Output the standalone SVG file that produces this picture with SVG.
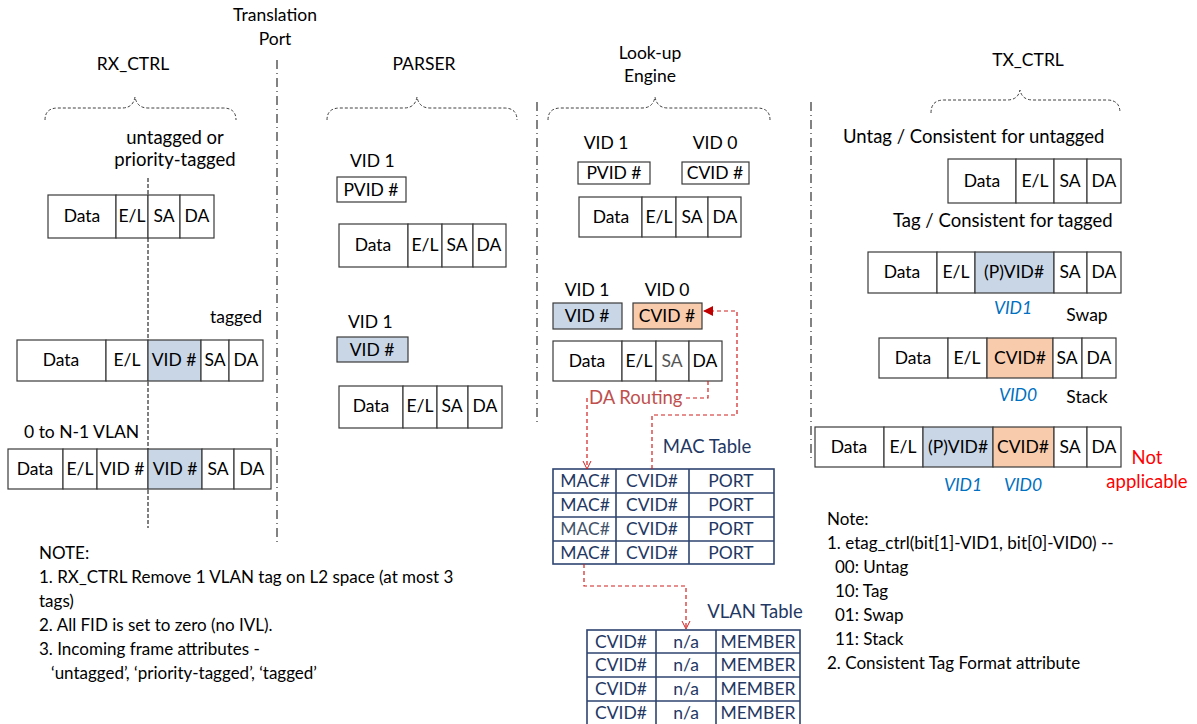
<svg xmlns="http://www.w3.org/2000/svg" width="1197" height="724" viewBox="0 0 1197 724">
<style>
text{font-family:Lato,"Liberation Sans",sans-serif;font-size:17.5px;fill:#000}
.c{text-anchor:middle}
.big{font-size:18.5px}
.note text{font-size:17px}
.cell{fill:#fff;stroke:#3a3a3a;stroke-width:1.2}
.blue{fill:#C9D6E6;stroke:#3a3a3a;stroke-width:1.2}
.org{fill:#F8CBAD;stroke:#3a3a3a;stroke-width:1.2}
.tab{fill:#fff;stroke:#2E4470;stroke-width:1.6}
.tt{fill:#1F3864;font-size:17.5px}
.sep{stroke:#404040;stroke-width:1.3;stroke-dasharray:9 4 1 4;fill:none}
.brace{fill:none;stroke:#404040;stroke-width:1;stroke-dasharray:3 2}
.vid{fill:#0070C0;font-style:italic}
.red{stroke:#D02020;stroke-width:1.2;stroke-dasharray:4 3;fill:none}
</style>
<defs>
<marker id="fill" markerWidth="10" markerHeight="10" refX="9" refY="5" orient="auto" markerUnits="userSpaceOnUse"><path d="M0,0 L10,5 L0,10 z" fill="#C00000"/></marker>
<marker id="open" markerWidth="10" markerHeight="10" refX="9" refY="5" orient="auto" markerUnits="userSpaceOnUse"><path d="M1,1 L9,5 L1,9" fill="none" stroke="#D02020" stroke-width="1"/></marker>
</defs>

<g id="separators">
<path class="sep" d="M277,60 V545"/>
<path class="sep" d="M537,102 V423"/>
<path class="sep" d="M811,102 V460"/>
<path d="M148,178 V528" stroke="#000" stroke-width="1" stroke-dasharray="4 2" fill="none"/>
</g>

<g id="translation-port"><text class="c" x="275" y="21">Translation</text><text class="c" x="275" y="45">Port</text></g>

<g id="rx-ctrl">
<text class="c" x="133" y="70">RX_CTRL</text>
<path class="brace" d="M45,120 Q45,108 58,108 H122 Q133,108 135,97 Q137,108 148,108 H223 Q236,108 236,120"/>
<text class="c big" x="175" y="144">untagged or</text>
<text class="c big" x="175" y="166">priority-tagged</text>
</g>
<g id="rx-frame-untagged">
<rect class="cell" x="48" y="195" width="68" height="43"/><rect class="cell" x="116" y="195" width="32" height="43"/><rect class="cell" x="148" y="195" width="32" height="43"/><rect class="cell" x="180" y="195" width="34" height="43"/>
<text class="c" x="82" y="222">Data</text><text class="c" x="132" y="222">E/L</text><text class="c" x="164" y="222">SA</text><text class="c" x="197" y="222">DA</text>
</g>
<g id="rx-frame-tagged">
<text x="262" y="323" text-anchor="end">tagged</text>
<rect class="cell" x="17" y="340" width="89" height="41"/><rect class="cell" x="106" y="340" width="42" height="41"/><rect class="blue" x="148" y="340" width="53" height="41"/><rect class="cell" x="201" y="340" width="28" height="41"/><rect class="cell" x="229" y="340" width="34" height="41"/>
<text class="c" x="61" y="366">Data</text><text class="c" x="127" y="366">E/L</text><text class="c" x="174" y="366">VID #</text><text class="c" x="215" y="366">SA</text><text class="c" x="246" y="366">DA</text>
</g>
<g id="rx-frame-nvlan">
<text x="24" y="438">0 to N-1 VLAN</text>
<rect class="cell" x="8" y="449" width="55" height="40"/><rect class="cell" x="63" y="449" width="34" height="40"/><rect class="cell" x="97" y="449" width="51" height="40"/><rect class="blue" x="148" y="449" width="54" height="40"/><rect class="cell" x="202" y="449" width="32" height="40"/><rect class="cell" x="234" y="449" width="37" height="40"/>
<text class="c" x="35" y="475">Data</text><text class="c" x="80" y="475">E/L</text><text class="c" x="122" y="475">VID #</text><text class="c" x="175" y="475">VID #</text><text class="c" x="218" y="475">SA</text><text class="c" x="252" y="475">DA</text>
</g>
<g id="rx-note" class="note">
<text x="39" y="559">NOTE:</text>
<text x="39" y="583">1. RX_CTRL Remove 1 VLAN tag on L2 space (at most 3</text>
<text x="39" y="607">tags)</text>
<text x="39" y="631">2. All FID is set to zero (no IVL).</text>
<text x="39" y="655">3. Incoming frame attributes -</text>
<text x="51" y="679">‘untagged’, ‘priority-tagged’, ‘tagged’</text>
</g>

<g id="parser">
<text class="c" x="424" y="70">PARSER</text>
<path class="brace" d="M327,120 Q327,108 340,108 H404 Q415,108 417,97 Q419,108 430,108 H504 Q517,108 517,120"/>
</g>
<g id="parser-pvid">
<text x="350" y="167">VID 1</text>
<rect class="cell" x="337" y="177" width="69" height="25"/><text class="c" x="371" y="196">PVID #</text>
</g>
<g id="parser-frame1">
<rect class="cell" x="339" y="224" width="69" height="43"/><rect class="cell" x="408" y="224" width="34" height="43"/><rect class="cell" x="442" y="224" width="31" height="43"/><rect class="cell" x="473" y="224" width="33" height="43"/>
<text class="c" x="373" y="251">Data</text><text class="c" x="425" y="251">E/L</text><text class="c" x="457" y="251">SA</text><text class="c" x="489" y="251">DA</text>
</g>
<g id="parser-vid">
<text x="348" y="328">VID 1</text>
<rect class="blue" x="337" y="337" width="71" height="25"/><text class="c" x="372" y="356">VID #</text>
</g>
<g id="parser-frame2">
<rect class="cell" x="339" y="386" width="64" height="42"/><rect class="cell" x="403" y="386" width="34" height="42"/><rect class="cell" x="437" y="386" width="31" height="42"/><rect class="cell" x="468" y="386" width="34" height="42"/>
<text class="c" x="371" y="412">Data</text><text class="c" x="420" y="412">E/L</text><text class="c" x="452" y="412">SA</text><text class="c" x="485" y="412">DA</text>
</g>

<g id="lookup">
<text class="c" x="650" y="59">Look-up</text>
<text class="c" x="650" y="82">Engine</text>
<path class="brace" d="M548,120 Q548,108 561,108 H642 Q653,108 655,97 Q657,108 668,108 H757 Q770,108 770,120"/>
</g>
<g id="lookup-ids1">
<text class="c" x="606" y="149">VID 1</text><text class="c" x="715" y="149">VID 0</text>
<rect class="cell" x="578" y="162" width="72" height="22"/><text class="c" x="614" y="179">PVID #</text>
<rect class="cell" x="682" y="162" width="67" height="22"/><text class="c" x="715" y="179">CVID #</text>
</g>
<g id="lookup-frame1">
<rect class="cell" x="579" y="197" width="63" height="40"/><rect class="cell" x="642" y="197" width="34" height="40"/><rect class="cell" x="676" y="197" width="32" height="40"/><rect class="cell" x="708" y="197" width="33" height="40"/>
<text class="c" x="611" y="223">Data</text><text class="c" x="659" y="223">E/L</text><text class="c" x="692" y="223">SA</text><text class="c" x="725" y="223">DA</text>
</g>
<g id="lookup-ids2">
<text class="c" x="587" y="296">VID 1</text><text class="c" x="667" y="296">VID 0</text>
<rect class="blue" x="553" y="303" width="69" height="26"/><text class="c" x="587" y="322">VID #</text>
<rect class="org" x="633" y="303" width="69" height="26"/><text class="c" x="667" y="322">CVID #</text>
</g>
<g id="lookup-frame2">
<rect class="cell" x="553" y="341" width="69" height="40"/><rect class="cell" x="622" y="341" width="34" height="40"/><rect class="cell" x="656" y="341" width="33" height="40"/><rect class="cell" x="689" y="341" width="33" height="40"/>
<text class="c" x="587" y="367">Data</text><text class="c" x="639" y="367">E/L</text><text class="c" x="672" y="367" style="fill:#555">SA</text><text class="c" x="705" y="367">DA</text>
</g>
<g id="da-routing"><text class="big" x="589" y="404" style="fill:#C0504D">DA Routing</text></g>

<g id="mac-table">
<text class="c tt" x="707" y="453" style="font-size:18.5px">MAC Table</text>
<rect class="tab" x="553" y="469" width="221" height="95"/>
<path d="M553,493 H774 M553,517 H774 M553,541 H774 M616,469 V564 M689,469 V564" stroke="#2E4470" stroke-width="1.6" fill="none"/>
<text class="c tt" x="585" y="487">MAC#</text><text class="c tt" x="652" y="487">CVID#</text><text class="c tt" x="731" y="487">PORT</text>
<text class="c tt" x="585" y="511">MAC#</text><text class="c tt" x="652" y="511">CVID#</text><text class="c tt" x="731" y="511">PORT</text>
<text class="c tt" x="585" y="535" style="fill:#44546A">MAC#</text><text class="c tt" x="652" y="535">CVID#</text><text class="c tt" x="731" y="535">PORT</text>
<text class="c tt" x="585" y="559">MAC#</text><text class="c tt" x="652" y="559">CVID#</text><text class="c tt" x="731" y="559">PORT</text>
</g>
<g id="vlan-table">
<text class="c tt" x="755" y="618" style="font-size:18.5px">VLAN Table</text>
<rect class="tab" x="587" y="630" width="213" height="96"/>
<path d="M587,653 H800 M587,677 H800 M587,701 H800 M656,630 V726 M716,630 V726" stroke="#2E4470" stroke-width="1.6" fill="none"/>
<text class="c tt" x="621" y="648">CVID#</text><text class="c tt" x="686" y="648">n/a</text><text class="c tt" x="758" y="648">MEMBER</text>
<text class="c tt" x="621" y="671">CVID#</text><text class="c tt" x="686" y="671">n/a</text><text class="c tt" x="758" y="671">MEMBER</text>
<text class="c tt" x="621" y="695">CVID#</text><text class="c tt" x="686" y="695">n/a</text><text class="c tt" x="758" y="695">MEMBER</text>
<text class="c tt" x="621" y="719">CVID#</text><text class="c tt" x="686" y="719">n/a</text><text class="c tt" x="758" y="719">MEMBER</text>
</g>

<g id="connectors">
<path class="red" d="M652,469 V415 H737 V311 H704" marker-end="url(#fill)"/>
<path class="red" d="M708,381 V398 H686"/>
<path class="red" d="M587,398 V469" marker-end="url(#open)"/>
<path class="red" d="M584,564 V586 H686 V629" marker-end="url(#open)"/>
</g>

<g id="tx-ctrl">
<text class="c" x="1028" y="66">TX_CTRL</text>
<path class="brace" d="M931,113 Q931,100 944,100 H1007 Q1018,100 1020,90 Q1022,100 1033,100 H1107 Q1120,100 1120,113"/>
</g>
<g id="tx-untag">
<text class="big" x="843" y="143">Untag / Consistent for untagged</text>
<rect class="cell" x="948" y="159" width="68" height="44"/><rect class="cell" x="1016" y="159" width="38" height="44"/><rect class="cell" x="1054" y="159" width="33" height="44"/><rect class="cell" x="1087" y="159" width="34" height="44"/>
<text class="c" x="982" y="187">Data</text><text class="c" x="1035" y="187">E/L</text><text class="c" x="1070" y="187">SA</text><text class="c" x="1104" y="187">DA</text>
</g>
<g id="tx-tag">
<text class="big" x="893" y="227">Tag / Consistent for tagged</text>
<rect class="cell" x="868" y="252" width="69" height="41"/><rect class="cell" x="937" y="252" width="38" height="41"/><rect class="blue" x="975" y="252" width="79" height="41"/><rect class="cell" x="1054" y="252" width="33" height="41"/><rect class="cell" x="1087" y="252" width="34" height="41"/>
<text class="c" x="902" y="278">Data</text><text class="c" x="956" y="278">E/L</text><text class="c" x="1014" y="278">(P)VID#</text><text class="c" x="1070" y="278">SA</text><text class="c" x="1104" y="278">DA</text>
<text class="c vid" x="1013" y="314">VID1</text>
</g>
<g id="tx-swap">
<text class="c" x="1087" y="321">Swap</text>
<rect class="cell" x="879" y="338" width="69" height="40"/><rect class="cell" x="948" y="338" width="39" height="40"/><rect class="org" x="987" y="338" width="66" height="40"/><rect class="cell" x="1053" y="338" width="29" height="40"/><rect class="cell" x="1082" y="338" width="34" height="40"/>
<text class="c" x="913" y="364">Data</text><text class="c" x="967" y="364">E/L</text><text class="c" x="1020" y="364">CVID#</text><text class="c" x="1067" y="364">SA</text><text class="c" x="1099" y="364">DA</text>
<text class="c vid" x="1018" y="401">VID0</text>
</g>
<g id="tx-stack">
<text class="c" x="1087" y="403">Stack</text>
<rect class="cell" x="815" y="427" width="69" height="40"/><rect class="cell" x="884" y="427" width="39" height="40"/><rect class="blue" x="923" y="427" width="70" height="40"/><rect class="org" x="993" y="427" width="61" height="40"/><rect class="cell" x="1054" y="427" width="33" height="40"/><rect class="cell" x="1087" y="427" width="34" height="40"/>
<text class="c" x="849" y="453">Data</text><text class="c" x="903" y="453">E/L</text><text class="c" x="958" y="453">(P)VID#</text><text class="c" x="1023" y="453">CVID#</text><text class="c" x="1070" y="453">SA</text><text class="c" x="1104" y="453">DA</text>
<text class="c vid" x="963" y="491">VID1</text><text class="c vid" x="1023" y="491">VID0</text>
<text class="c big" x="1147" y="464" style="fill:#FF0000">Not</text><text class="c big" x="1147" y="488" style="fill:#FF0000">applicable</text>
</g>
<g id="tx-note" class="note">
<text x="827" y="525">Note:</text>
<text x="827" y="549">1. etag_ctrl(bit[1]-VID1, bit[0]-VID0) --</text>
<text x="835" y="573">00: Untag</text>
<text x="835" y="597">10: Tag</text>
<text x="835" y="621">01: Swap</text>
<text x="835" y="645">11: Stack</text>
<text x="827" y="669">2. Consistent Tag Format attribute</text>
</g>
</svg>
